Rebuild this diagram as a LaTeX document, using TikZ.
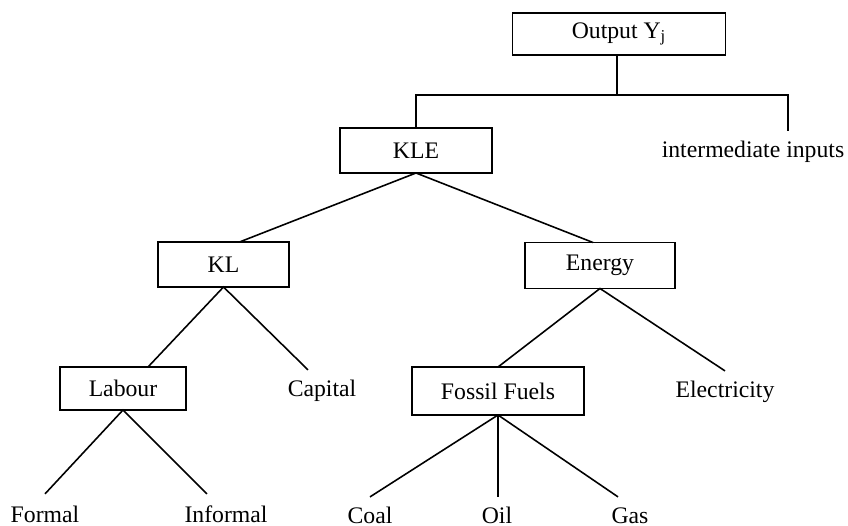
\documentclass[tikz,border=0pt]{standalone}
\usepackage{fontspec}
\setmainfont{Liberation Serif}
\begin{document}
\begin{tikzpicture}[x=0.02cm, y=-0.02cm, line width=0.9pt,
    font=\fontsize{13.5}{16}\selectfont,
    box/.style={draw, line width=1pt, minimum height=0.9cm, outer sep=0pt},
    leaf/.style={text height=1.5ex, text depth=0.25ex, inner ysep=8pt, outer sep=0pt}]
  \useasboundingbox (0,0) rectangle (848,526);
  % boxes
  \node[box, minimum width=4.26cm, minimum height=0.84cm] (out) at (619,34) {Output Y\textsubscript{j}};
  \node[box, minimum width=3.04cm] (kle) at (416,150.5) {KLE};
  \node[box, minimum width=2.62cm] (kl) at (223.5,264.5) {KL};
  \node[box, minimum width=3.0cm, minimum height=0.92cm] (energy) at (600,265.5) {Energy};
  \node[box, minimum width=2.52cm, minimum height=0.86cm] (labour) at (123,388.5) {Labour};
  \node[box, minimum width=3.44cm, minimum height=0.96cm] (fossil) at (498,391) {Fossil Fuels};
  % plain labels
  \node[leaf] (inter) at (753,152) {intermediate inputs};
  \node[leaf] (capital) at (322,391) {Capital};
  \node[leaf] (elec) at (725,392) {Electricity};
  \node[leaf] (formal) at (45,517) {Formal};
  \node[leaf] (informal) at (226,517) {Informal};
  \node[leaf] (coal) at (370,518) {Coal};
  \node[leaf] (oil) at (497,518) {Oil};
  \node[leaf] (gas) at (630,518) {Gas};
  % top level
  \coordinate (split) at (617,95);
  \draw (split |- out.south) -- (split);
  \draw (kle.north) |- (split) -| ([xshift=0.7cm]inter.north);
  % tree
  \draw ([xshift=0.32cm]kl.north) -- (kle.south) -- ([xshift=-0.14cm]energy.north);
  \draw ([xshift=0.5cm]labour.north) -- (kl.south) -- ([xshift=-0.28cm]capital.north);
  \draw (fossil.north) -- (energy.south) -- (elec.north);
  \draw ([yshift=0.04cm]formal.north) -- (labour.south) -- ([xshift=-0.38cm,yshift=0.04cm]informal.north);
  \draw (coal.north) -- (fossil.south) -- ([xshift=-0.24cm]gas.north);
  \draw (fossil.south) -- (oil.north -| fossil.south);
\end{tikzpicture}
\end{document}
